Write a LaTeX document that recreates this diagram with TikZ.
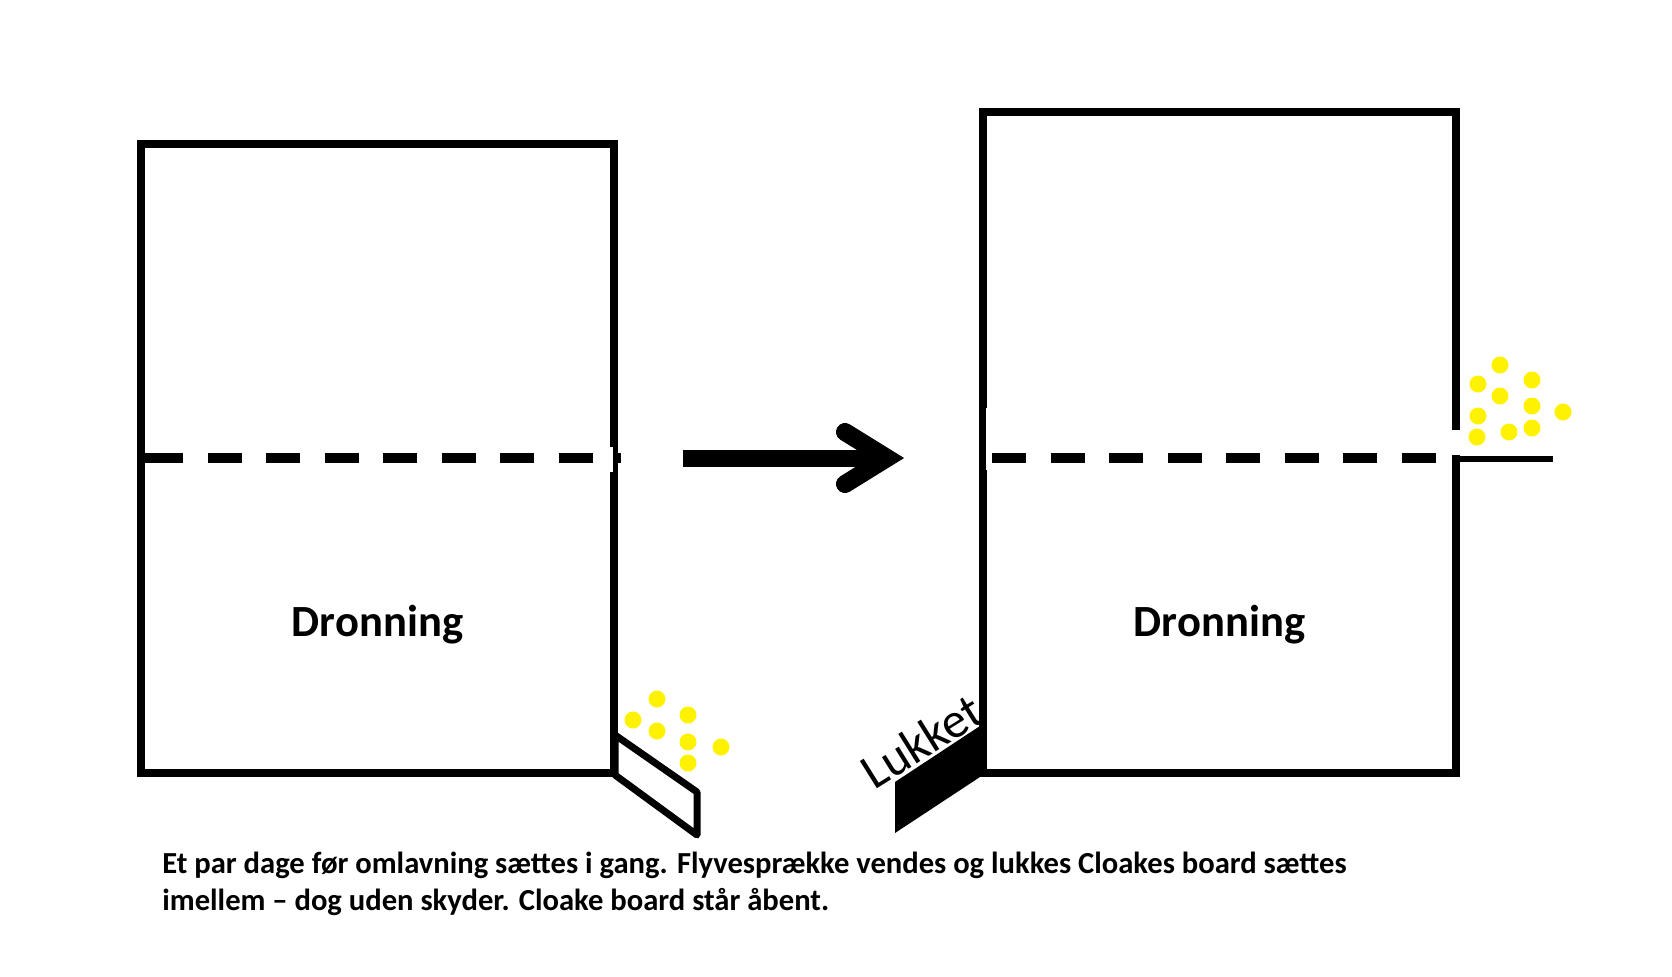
\documentclass[tikz,border=0pt]{standalone}
\usepackage{fontspec}
\setmainfont{Carlito}
\begin{document}
\begin{tikzpicture}[x=0.5pt,y=-0.5pt,
  boxline/.style={line width=4pt, line join=miter},
  dashline/.style={line width=5pt, dash pattern=on 17pt off 12.25pt},
  dot/.style={fill=yellow, draw=none},
  label/.style={inner sep=0pt, font=\bfseries\fontsize{22.3}{26}\selectfont},
  caption/.style={inner sep=0pt, anchor=base west, font=\bfseries\fontsize{15.3}{18}\selectfont}]
\useasboundingbox (0,0) rectangle (1672,976);
\fill[white] (0,0) rectangle (1672,976);
% left hive
\draw[boxline] (141,143.5) rectangle (614,773);
\fill[white] (609,447) rectangle (613,472);
\fill (613,453) rectangle (621,463);
\draw[line width=5pt] (141,458) -- (183,458);
\draw[dashline] (149,458) -- (593,458);
\draw[line width=3.5pt, line join=round] (615,735) -- (697,792) -- (697,835) -- (615,775) -- cycle;
\foreach \p in {(657,699),(633,720),(657,731),(688,715),(688,742),(688,763),(721,747)}
  \fill[dot] \p circle (8.5);
\node[label, anchor=base] (dron1) at (377.5,636) {Dronning};
% arrow
\fill (683,449.5) rectangle (890,466.5);
\draw[line width=9pt, line cap=round, line join=miter] (845,432) -- (887,458) -- (845,484);
% right hive
\draw[boxline] (1456,455) -- (1456,773) -- (983,773) -- (983,112) -- (1456,112) -- (1456,430);
\fill[white] (985.5,408) rectangle (989.5,470);
\draw[dashline] (992,458) -- (1436,458);
\draw[line width=3pt] (1453,459) -- (1553,459);
\foreach \p in {(1500,365),(1478,384),(1532,380),(1500,396),(1532,406),(1563,412),(1478,416),(1477,437),(1509,432),(1532,428)}
  \fill[dot] \p circle (8.5);
\fill (895,782) -- (983,724) -- (983,775) -- (895,833) -- cycle;
\node[inner sep=0pt, rotate=32, anchor=base west, font=\fontsize{25}{30}\selectfont] (lukket) at (874,791) {Lukket};
\node[label, anchor=base] (dron2) at (1219.5,636) {Dronning};
% caption
\node[caption] (cap1) at (162,873) {Et par dage før omlavning sættes i gang. Flyvesprække vendes og lukkes Cloakes board sættes};
\node[caption] (cap2) at (162,910) {imellem – dog uden skyder. Cloake board står åbent.};
\end{tikzpicture}
\end{document}
